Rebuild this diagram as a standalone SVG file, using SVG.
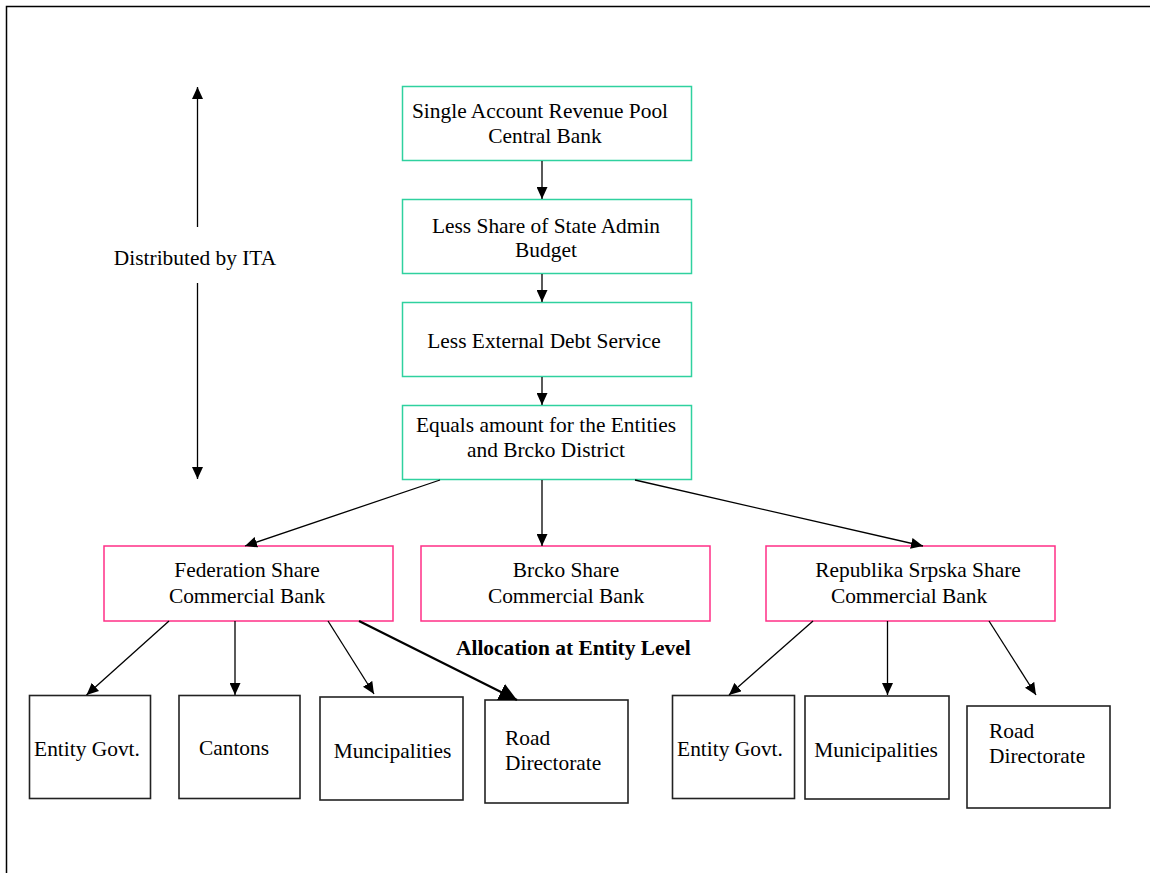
<svg xmlns="http://www.w3.org/2000/svg" width="1150" height="873" viewBox="0 0 1150 873">
<defs>
<style>
text{font-family:"Liberation Serif","Times New Roman",serif;font-size:21.4px;fill:#000}
.c{text-anchor:middle}
.b{font-weight:bold}
.top rect{fill:#fff;stroke:#2fd19f;stroke-width:1.5}
.mid rect{fill:#fff;stroke:#ff2f86;stroke-width:1.5}
.bot rect{fill:#fff;stroke:#222;stroke-width:1.6}
.con line{stroke:#000;stroke-width:1.3;fill:none;marker-end:url(#ah)}
.con line.thick{stroke-width:2.2;marker-end:url(#ahb)}
</style>
<marker id="ah" markerUnits="userSpaceOnUse" markerWidth="12" markerHeight="11" refX="12" refY="5.5" orient="auto"><path d="M0,0 L12,5.5 L0,11 z" fill="#000"/></marker>
<marker id="ahb" markerUnits="userSpaceOnUse" markerWidth="18" markerHeight="18" refX="18" refY="9" orient="auto"><path d="M0,0 L18,9 L0,18 z" fill="#000"/></marker>
</defs>
<rect width="1150" height="873" fill="#fff"/>
<path d="M6.5,873 V6.5 H1150" fill="none" stroke="#000" stroke-width="1.5"/>

<g id="itaLabel">
<text class="c" x="195" y="265">Distributed by ITA</text>
</g>
<g id="allocLabel">
<text class="b" x="456" y="655">Allocation at Entity Level</text>
</g>

<g id="n1" class="top"><rect x="402.5" y="86.5" width="289" height="74"/>
<text class="c" x="540" y="118">Single Account Revenue Pool</text>
<text class="c" x="545" y="143">Central Bank</text></g>
<g id="n2" class="top"><rect x="402.5" y="199.5" width="289" height="74"/>
<text class="c" x="546" y="233">Less Share of State Admin</text>
<text class="c" x="546" y="257">Budget</text></g>
<g id="n3" class="top"><rect x="402.5" y="302.5" width="289" height="74"/>
<text class="c" x="544" y="348">Less External Debt Service</text></g>
<g id="n4" class="top"><rect x="402.5" y="405.5" width="289" height="74"/>
<text class="c" x="546" y="432">Equals amount for the Entities</text>
<text class="c" x="546" y="457">and Brcko District</text></g>

<g id="fed" class="mid"><rect x="104" y="546" width="289" height="75"/>
<text class="c" x="247" y="577">Federation Share</text>
<text class="c" x="247" y="603">Commercial Bank</text></g>
<g id="brcko" class="mid"><rect x="421" y="546" width="289" height="75"/>
<text class="c" x="566" y="577">Brcko Share</text>
<text class="c" x="566" y="603">Commercial Bank</text></g>
<g id="rs" class="mid"><rect x="766" y="546" width="289" height="75"/>
<text class="c" x="918" y="577">Republika Srpska Share</text>
<text class="c" x="909" y="603">Commercial Bank</text></g>

<g id="fedGov" class="bot"><rect x="29.5" y="695.5" width="121" height="103"/>
<text class="c" x="87" y="756">Entity Govt.</text></g>
<g id="cantons" class="bot"><rect x="179" y="695.5" width="121" height="103"/>
<text class="c" x="234" y="755">Cantons</text></g>
<g id="fedMun" class="bot"><rect x="320" y="697" width="143" height="103"/>
<text class="c" x="392.5" y="758">Muncipalities</text></g>
<g id="fedRoad" class="bot"><rect x="485" y="700" width="143" height="103"/>
<text x="505" y="745">Road</text>
<text x="505" y="770">Directorate</text></g>
<g id="rsGov" class="bot"><rect x="672.5" y="695.5" width="122" height="103"/>
<text class="c" x="730" y="756">Entity Govt.</text></g>
<g id="rsMun" class="bot"><rect x="805" y="696" width="144" height="103"/>
<text class="c" x="876" y="757">Municipalities</text></g>
<g id="rsRoad" class="bot"><rect x="967" y="706" width="143" height="102"/>
<text x="989" y="738">Road</text>
<text x="989" y="763">Directorate</text></g>

<g id="connectors" class="con">
<line x1="197.5" y1="227" x2="197.5" y2="87"/>
<line x1="197.5" y1="283" x2="197.5" y2="479"/>
<line x1="542" y1="161" x2="542" y2="199"/>
<line x1="542" y1="274" x2="542" y2="302"/>
<line x1="542" y1="377" x2="542" y2="405"/>
<line x1="440" y1="480" x2="245" y2="546"/>
<line x1="542" y1="480" x2="542" y2="546"/>
<line x1="635" y1="480" x2="923" y2="546"/>
<line x1="169" y1="621" x2="86.5" y2="695"/>
<line x1="235" y1="621" x2="235" y2="695"/>
<line x1="328" y1="621" x2="374" y2="694"/>
<line class="thick" x1="359" y1="621" x2="517" y2="700"/>
<line x1="813" y1="621" x2="729" y2="695"/>
<line x1="887.5" y1="621" x2="887.5" y2="695"/>
<line x1="989" y1="621" x2="1036" y2="695"/>
</g>
</svg>
